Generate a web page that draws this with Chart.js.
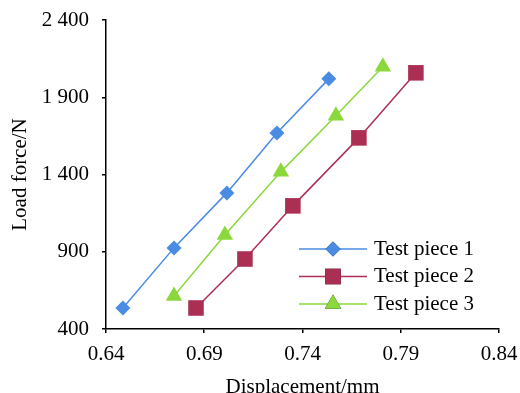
<!DOCTYPE html>
<html>
<head>
<meta charset="utf-8">
<script src="https://cdn.jsdelivr.net/npm/chart.js@4/dist/chart.umd.min.js"></script>
<style>
  html, body { margin:0; padding:0; background:#fff; }
  #wrap { width:520px; height:393px; }
</style>
</head>
<body>
<div id="wrap"><canvas id="c" width="520" height="393"></canvas></div>
<script>
// data (displacement mm, load N)
const piece1X = [0.6486, 0.6746, 0.7015, 0.7270, 0.7534];
const piece1Y = [536, 925, 1281, 1669, 2019];
const piece2X = [0.6858, 0.7107, 0.7351, 0.7687, 0.7977];
const piece2Y = [536, 853, 1197, 1637, 2058];
const piece3X = [0.6746, 0.7005, 0.7290, 0.7570, 0.7809];
const piece3Y = [614, 1009, 1417, 1780, 2097];
const seriesNames = ['Test piece 1', 'Test piece 2', 'Test piece 3'];

const FONT = 'Liberation Serif, Times New Roman, serif';
const colors = ['#4a8be3', '#ab2f53', '#8ad83c'];
const styles = ['rectRot', 'rect', 'triangle'];
const radii = [7.5, 11, 9.5];

const pts = (xs, ys) => xs.map((x,i)=>({x, y: ys[i]}));
const datasets = [pts(piece1X,piece1Y), pts(piece2X,piece2Y), pts(piece3X,piece3Y)].map((d,i)=>({
  label: seriesNames[i], data: d,
  borderColor: colors[i], backgroundColor: colors[i], borderWidth: 1.5,
  pointStyle: styles[i], pointRadius: radii[i], pointBorderWidth: 0,
  pointBackgroundColor: colors[i], tension: 0
}));

// legend drawn inside the plot: line + marker + text
const legendIn = {
  id: 'legendIn',
  afterDraw(chart){
    const ctx = chart.ctx;
    ctx.save();
    datasets.forEach((ds,i)=>{
      const y = 249 + i*27.5;
      ctx.strokeStyle = ds.borderColor; ctx.lineWidth = 1.5;
      ctx.beginPath(); ctx.moveTo(299, y); ctx.lineTo(367, y); ctx.stroke();
      Chart.helpers.drawPoint(ctx, {pointStyle: ds.pointStyle, radius: ds.pointRadius, borderWidth: 0}, 333, y);
      ctx.fillStyle = ds.backgroundColor;
      ctx.fill();
      ctx.fillStyle = '#000';
      ctx.font = '21px ' + FONT;
      ctx.textBaseline = 'middle';
      ctx.fillText(ds.label, 374, y);
    });
    ctx.restore();
  }
};

new Chart(document.getElementById('c'), {
  type: 'line',
  data: { datasets },
  plugins: [legendIn],
  options: {
    responsive: false, animation: false,
    layout: { padding: { top: 20, right: 21, left: 0, bottom: 0 } },
    plugins: { legend: { display: false }, tooltip: { enabled: false } },
    scales: {
      x: {
        type: 'linear', min: 0.64, max: 0.84,
        afterFit: s => { s.height = 64; s.paddingLeft = 0; s.paddingRight = 0; },
        ticks: { stepSize: 0.05, color: '#000', padding: 9, font: { family: FONT, size: 21 },
          callback: v => v.toFixed(2) },
        grid: { drawOnChartArea: false, drawTicks: true, tickLength: 4, color: '#000', lineWidth: 1.5 },
        border: { color: '#000', width: 1.5 },
        title: { display: true, text: 'Displacement/mm', color: '#000',
          font: { family: FONT, size: 21 }, padding: { top: 0, bottom: -7 } }
      },
      y: {
        min: 400, max: 2400,
        afterFit: s => { s.width = 106; s.paddingTop = 0; s.paddingBottom = 0; },
        ticks: { stepSize: 500, color: '#000', padding: 13, font: { family: FONT, size: 21 },
          callback: v => v >= 1000 ? Math.floor(v/1000) + ' ' + String(v%1000).padStart(3,'0') : String(v) },
        grid: { drawOnChartArea: false, drawTicks: true, tickLength: 4, color: '#000', lineWidth: 1.5 },
        border: { color: '#000', width: 1.5 },
        title: { display: true, text: 'Load force/N', color: '#000',
          font: { family: FONT, size: 21 }, padding: { top: 8, bottom: 0 } }
      }
    }
  }
});
</script>
</body>
</html>
